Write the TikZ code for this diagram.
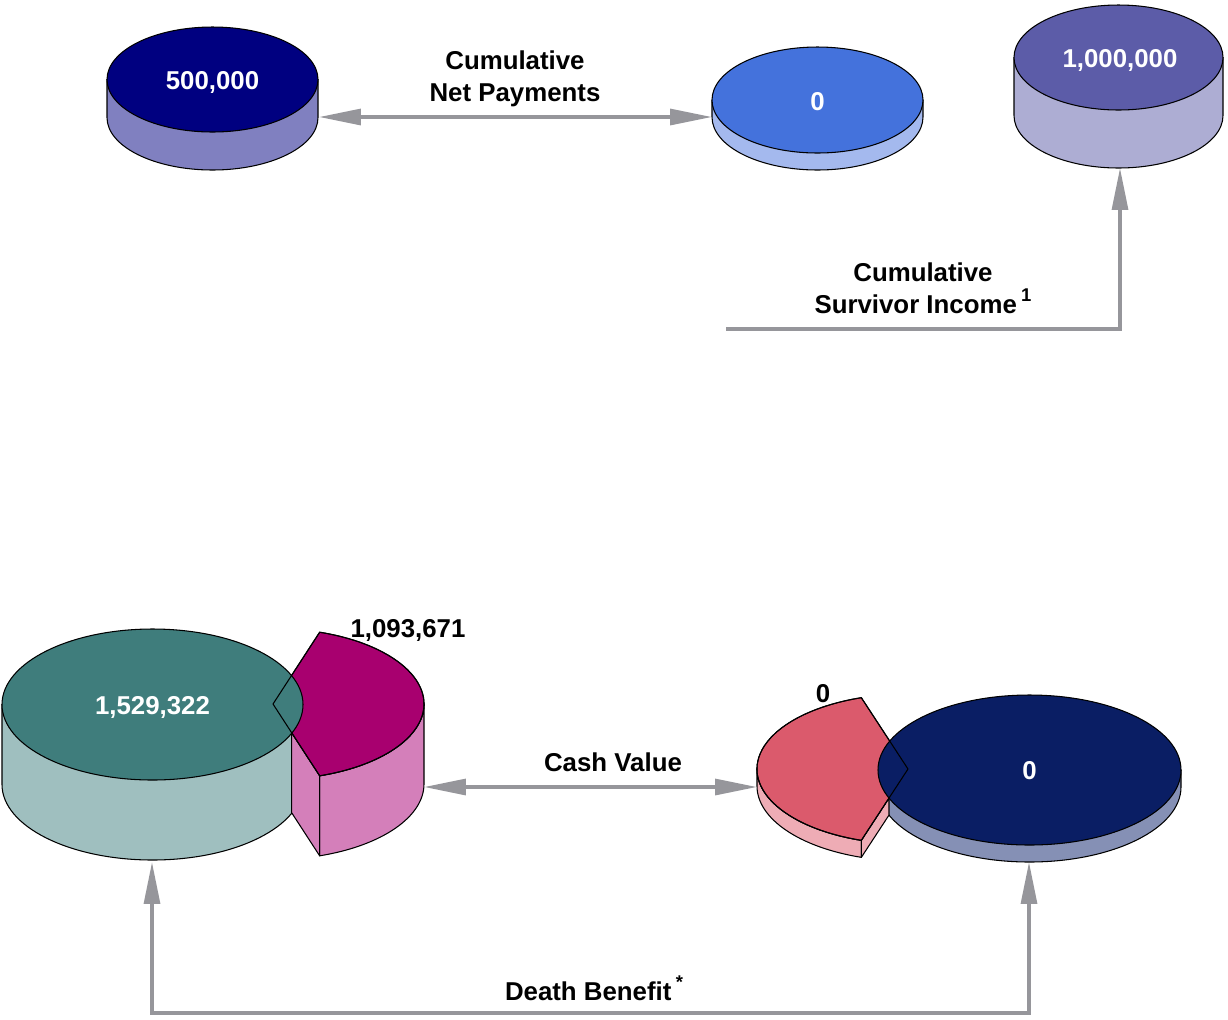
\documentclass[tikz,border=0pt]{standalone}
\usepackage{fontspec}
\setmainfont{Liberation Sans}
\usepackage{tikz}
\usetikzlibrary{calc,arrows.meta}
\definecolor{navytop}{HTML}{000080}
\definecolor{navyside}{HTML}{8080C0}
\definecolor{bluetop}{HTML}{4472DC}
\definecolor{blueside}{HTML}{A4B9EE}
\definecolor{purptop}{HTML}{5C5CA8}
\definecolor{purpside}{HTML}{ADADD3}
\definecolor{tealtop}{HTML}{3F7D7C}
\definecolor{tealside}{HTML}{9FBFBF}
\definecolor{magtop}{HTML}{A8006F}
\definecolor{magside}{HTML}{D47FBA}
\definecolor{redtop}{HTML}{DB5A6C}
\definecolor{redside}{HTML}{EEACB5}
\definecolor{deeptop}{HTML}{0A1E64}
\definecolor{deepside}{HTML}{8590B5}
\definecolor{linkgray}{HTML}{96969B}
\tikzset{
  Head/.tip={Triangle[length=23.8pt,width=9pt]},
  side/.style={draw=black, line width=0.6pt, line join=round},
  top/.style={draw=black, line width=0.6pt, line join=round},
  link/.style={draw=linkgray, line width=2pt},
  val/.style={text=white, font=\fontsize{14.7}{18.1}\selectfont\bfseries, inner sep=0pt},
  num/.style={text=black, font=\fontsize{14.7}{18.1}\selectfont\bfseries, inner sep=0pt},
  lab/.style={text=black, font=\fontsize{14.7}{18.1}\selectfont\bfseries, align=center, inner sep=0pt}
}
\newcommand{\supmark}[1]{\,\raisebox{0.45em}{\fontsize{10.5}{10.5}\selectfont #1}}
% x, y, rx, ry, height, colour
\newcommand{\drumside}[6]{%
  \path[side, fill=#6] ({#1-#3},#2) -- ++(0,#5)
    arc[start angle=180, end angle=0, x radius=#3, y radius=#4] -- ++(0,-#5) -- cycle;}
\newcommand{\drumtop}[5]{%
  \path[top, fill=#5] (#1,#2) ellipse[x radius=#3, y radius=#4];}
\newcommand{\drum}[7]{\drumside{#1}{#2}{#3}{#4}{#5}{#7}\drumtop{#1}{#2}{#3}{#4}{#6}}

\begin{document}
\begin{tikzpicture}[x=0.02cm, y=-0.02cm]
  \useasboundingbox (0,0) rectangle (1228,1019);

  % upper row
  \drum{212.5}{79.5}{105.5}{52.5}{38}{navytop}{navyside}
  \node[val] (pay) at (212.5,82) {500,000};
  \drum{817.5}{100}{105.5}{53}{17}{bluetop}{blueside}
  \node[val] (nil) at (817.5,102) {0};
  \drum{1118.5}{57.5}{104.5}{52.5}{58}{purptop}{purpside}
  \node[val] (inc) at (1120,60) {1,000,000};

  \coordinate (pay-e) at (319,117);
  \coordinate (nil-w) at (712,117);
  \coordinate (inc-s) at (1120,168);
  \coordinate (inc-in) at (726,329);

  \draw[link, Head-Head] (pay-e) -- (nil-w);
  \node[lab] (netpay) at (515,79) {Cumulative\\Net Payments};
  \draw[link, -Head] (inc-in) -| (inc-s);
  \node[lab] (survinc) at (923,288) {Cumulative\\Survivor Income\supmark{1}};

  % lower left
  \coordinate (A) at (273,704);
  \coordinate (B) at ($(A)+(72:151 and 75.5)$);
  \coordinate (P) at ($(A)!0.4!(B)$);
  \drumside{152.5}{704.5}{150.5}{75.5}{80}{tealside}
  \path[side, fill=magside] ($(A)+(151,0)$)
    arc[start angle=0, end angle=72, x radius=151, y radius=75.5] -- ++(0,80)
    arc[start angle=72, end angle=0, x radius=151, y radius=75.5] -- cycle;
  \path[side, fill=magside] (P) -- (B) -- ++(0,80) -- ($(P)+(0,80)$) -- cycle;
  \path[top, fill=magtop] (A) -- ++(-72:151 and 75.5)
    arc[start angle=-72, end angle=72, x radius=151, y radius=75.5] -- cycle;
  \drumtop{152.5}{704.5}{150.5}{75.5}{tealtop}
  \draw[top] (A) -- ++(-72:151 and 75.5)
    arc[start angle=-72, end angle=72, x radius=151, y radius=75.5] -- cycle;
  \node[val] (cvold) at (152.5,707) {1,529,322};
  \node[num] (cvadd) at (408,630) {1,093,671};

  % lower right
  \coordinate (R) at (908,769);
  \coordinate (B2) at ($(R)+(108:151 and 75)$);
  \coordinate (Q) at ($(R)!0.407!(B2)$);
  \drumside{1029.5}{770}{151.5}{75}{17}{deepside}
  \path[side, fill=redside] ($(R)+(-151,0)$)
    arc[start angle=180, end angle=108, x radius=151, y radius=75] -- ++(0,17)
    arc[start angle=108, end angle=180, x radius=151, y radius=75] -- cycle;
  \path[side, fill=redside] (Q) -- (B2) -- ++(0,17) -- ($(Q)+(0,17)$) -- cycle;
  \path[top, fill=redtop] (R) -- ++(108:151 and 75)
    arc[start angle=108, end angle=252, x radius=151, y radius=75] -- cycle;
  \drumtop{1029.5}{770}{151.5}{75}{deeptop}
  \draw[top] (R) -- ++(108:151 and 75)
    arc[start angle=108, end angle=252, x radius=151, y radius=75] -- cycle;
  \node[val] (dbnew) at (1029.5,771) {0};
  \node[num] (cvnew) at (823,694) {0};

  \coordinate (cvold-e) at (424,787);
  \coordinate (cvnew-w) at (757,787);
  \coordinate (dbold-s) at (152,862);
  \coordinate (dbnew-s) at (1029,862);

  \draw[link, Head-Head] (cvold-e) -- (cvnew-w);
  \node[lab] (cash) at (613,762) {Cash Value};
  \draw[link, Head-Head] (dbold-s) -- ++(0,151) -| (dbnew-s);
  \node[lab] (death) at (594,988) {Death Benefit\supmark{*}};
\end{tikzpicture}
\end{document}
